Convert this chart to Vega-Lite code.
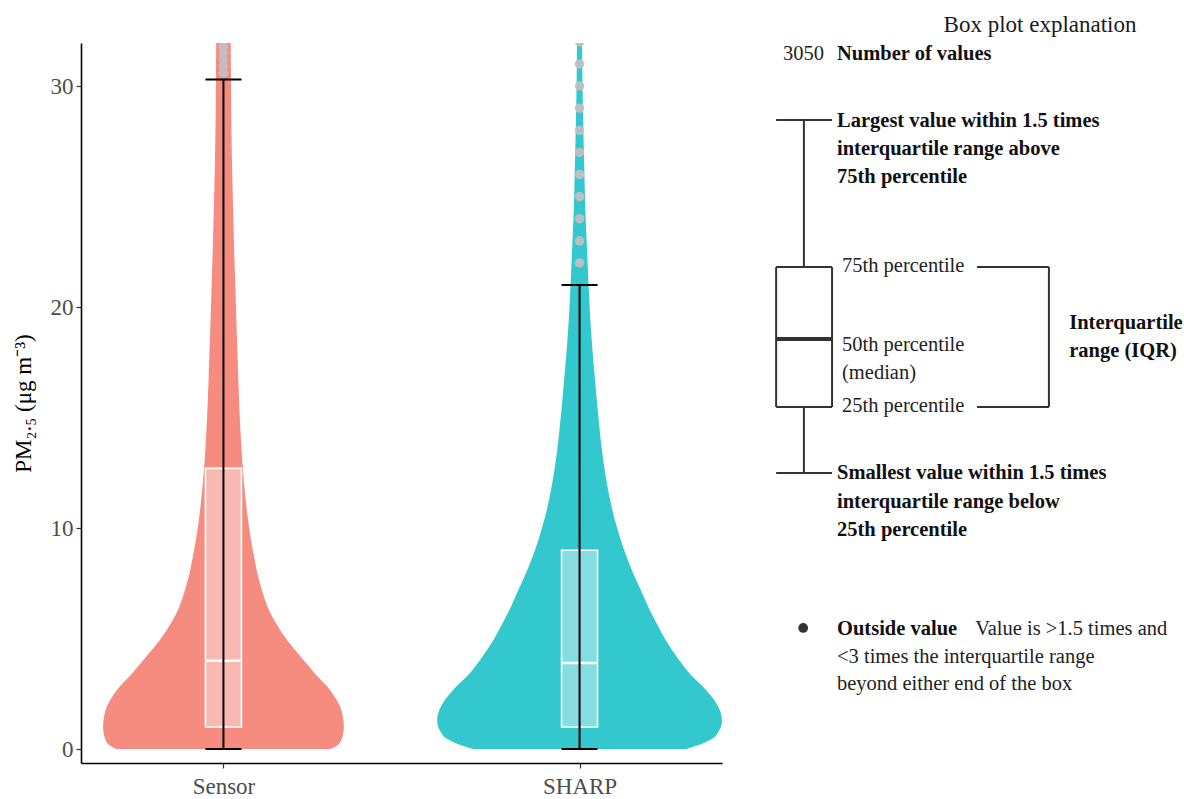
{
  "$schema": "https://vega.github.io/schema/vega-lite/v6.json",
  "width": 641,
  "height": 720,
  "autosize": {"type": "none"},
  "padding": {"left": 81, "top": 43, "right": 462, "bottom": 36},
  "background": "white",
  "config": {
    "view": {"stroke": null},
    "font": "Liberation Serif",
    "axis": {"grid": false, "domainColor": "#000000", "domainWidth": 1.6, "tickColor": "#333333", "tickSize": 5, "tickWidth": 1.2, "labelFont": "Liberation Serif", "labelFontSize": 23, "labelColor": "#4d4d4d", "titleFont": "Liberation Serif"}
  },
  "datasets": {
    "violin": [
      {"group": "Sensor", "pm": 0, "density": 0.300},
      {"group": "Sensor", "pm": 0.2, "density": 0.322},
      {"group": "Sensor", "pm": 0.5, "density": 0.333},
      {"group": "Sensor", "pm": 1.0, "density": 0.338},
      {"group": "Sensor", "pm": 1.5, "density": 0.335},
      {"group": "Sensor", "pm": 1.9, "density": 0.328},
      {"group": "Sensor", "pm": 2.3, "density": 0.315},
      {"group": "Sensor", "pm": 2.7, "density": 0.298},
      {"group": "Sensor", "pm": 3.4, "density": 0.258},
      {"group": "Sensor", "pm": 4.2, "density": 0.216},
      {"group": "Sensor", "pm": 4.9, "density": 0.180},
      {"group": "Sensor", "pm": 5.7, "density": 0.147},
      {"group": "Sensor", "pm": 6.4, "density": 0.125},
      {"group": "Sensor", "pm": 7.2, "density": 0.108},
      {"group": "Sensor", "pm": 7.9, "density": 0.096},
      {"group": "Sensor", "pm": 8.7, "density": 0.086},
      {"group": "Sensor", "pm": 9.5, "density": 0.077},
      {"group": "Sensor", "pm": 10.5, "density": 0.068},
      {"group": "Sensor", "pm": 12.0, "density": 0.058},
      {"group": "Sensor", "pm": 13.5, "density": 0.051},
      {"group": "Sensor", "pm": 15.0, "density": 0.046},
      {"group": "Sensor", "pm": 16.6, "density": 0.042},
      {"group": "Sensor", "pm": 18.1, "density": 0.039},
      {"group": "Sensor", "pm": 19.5, "density": 0.036},
      {"group": "Sensor", "pm": 21.1, "density": 0.033},
      {"group": "Sensor", "pm": 22.6, "density": 0.030},
      {"group": "Sensor", "pm": 24.5, "density": 0.027},
      {"group": "Sensor", "pm": 26.5, "density": 0.024},
      {"group": "Sensor", "pm": 28.5, "density": 0.022},
      {"group": "Sensor", "pm": 30.5, "density": 0.021},
      {"group": "Sensor", "pm": 32.5, "density": 0.020},
      {"group": "SHARP", "pm": 0, "density": 0.299},
      {"group": "SHARP", "pm": 0.3, "density": 0.352},
      {"group": "SHARP", "pm": 0.6, "density": 0.383},
      {"group": "SHARP", "pm": 1.3, "density": 0.400},
      {"group": "SHARP", "pm": 1.9, "density": 0.390},
      {"group": "SHARP", "pm": 2.7, "density": 0.354},
      {"group": "SHARP", "pm": 3.4, "density": 0.310},
      {"group": "SHARP", "pm": 4.2, "density": 0.272},
      {"group": "SHARP", "pm": 4.9, "density": 0.243},
      {"group": "SHARP", "pm": 5.7, "density": 0.216},
      {"group": "SHARP", "pm": 6.4, "density": 0.194},
      {"group": "SHARP", "pm": 7.2, "density": 0.172},
      {"group": "SHARP", "pm": 7.9, "density": 0.152},
      {"group": "SHARP", "pm": 8.7, "density": 0.132},
      {"group": "SHARP", "pm": 9.5, "density": 0.115},
      {"group": "SHARP", "pm": 10.5, "density": 0.097},
      {"group": "SHARP", "pm": 12.0, "density": 0.077},
      {"group": "SHARP", "pm": 13.5, "density": 0.063},
      {"group": "SHARP", "pm": 15.0, "density": 0.053},
      {"group": "SHARP", "pm": 16.6, "density": 0.044},
      {"group": "SHARP", "pm": 18.1, "density": 0.036},
      {"group": "SHARP", "pm": 19.5, "density": 0.030},
      {"group": "SHARP", "pm": 21.1, "density": 0.025},
      {"group": "SHARP", "pm": 22.6, "density": 0.021},
      {"group": "SHARP", "pm": 24.5, "density": 0.016},
      {"group": "SHARP", "pm": 26.5, "density": 0.013},
      {"group": "SHARP", "pm": 28.5, "density": 0.010},
      {"group": "SHARP", "pm": 30.5, "density": 0.008},
      {"group": "SHARP", "pm": 32.5, "density": 0.007}
    ],
    "boxes": [
      {"group": "Sensor", "lower": 0, "q1": 1.0, "median": 4.0, "q3": 12.7, "upper": 30.3},
      {"group": "SHARP", "lower": 0, "q1": 1.0, "median": 3.9, "q3": 9.0, "upper": 21.0}
    ],
    "outliers": [
      {"group": "Sensor", "pm": 30.6}, {"group": "Sensor", "pm": 30.9}, {"group": "Sensor", "pm": 31.2},
      {"group": "Sensor", "pm": 31.5}, {"group": "Sensor", "pm": 31.8}, {"group": "Sensor", "pm": 32.1},
      {"group": "SHARP", "pm": 22}, {"group": "SHARP", "pm": 23}, {"group": "SHARP", "pm": 24},
      {"group": "SHARP", "pm": 25}, {"group": "SHARP", "pm": 26}, {"group": "SHARP", "pm": 27},
      {"group": "SHARP", "pm": 28}, {"group": "SHARP", "pm": 29}, {"group": "SHARP", "pm": 30},
      {"group": "SHARP", "pm": 31}, {"group": "SHARP", "pm": 32}
    ],
    "keyLines": [
      {"x": 2.552, "x2": 2.709, "y": 28.47, "y2": 28.47},
      {"x": 2.630, "x2": 2.630, "y": 28.47, "y2": 21.81},
      {"x": 2.552, "x2": 2.709, "y": 21.81, "y2": 21.81},
      {"x": 2.552, "x2": 2.709, "y": 15.48, "y2": 15.48},
      {"x": 2.552, "x2": 2.552, "y": 15.48, "y2": 21.81},
      {"x": 2.709, "x2": 2.709, "y": 15.48, "y2": 21.81},
      {"x": 2.630, "x2": 2.630, "y": 15.48, "y2": 12.49},
      {"x": 2.552, "x2": 2.709, "y": 12.49, "y2": 12.49},
      {"x": 3.116, "x2": 3.318, "y": 21.81, "y2": 21.81},
      {"x": 3.318, "x2": 3.318, "y": 15.48, "y2": 21.81},
      {"x": 3.116, "x2": 3.318, "y": 15.48, "y2": 15.48}
    ],
    "keyMedian": [
      {"x": 2.552, "x2": 2.709, "y": 18.56}
    ],
    "keyTitle": [
      {"text": "Box plot explanation", "x": 3.293, "y": 32.45}
    ],
    "keyPlain": [
      {"text": "3050", "x": 2.571, "y": 31.18},
      {"text": "75th percentile", "x": 2.737, "y": 21.59},
      {"text": "50th percentile", "x": 2.737, "y": 18.01},
      {"text": "(median)", "x": 2.737, "y": 16.75},
      {"text": "25th percentile", "x": 2.737, "y": 15.25},
      {"text": "Value is >1.5 times and", "x": 3.111, "y": 5.16},
      {"text": "<3 times the interquartile range", "x": 2.723, "y": 3.90},
      {"text": "beyond either end of the box", "x": 2.723, "y": 2.67}
    ],
    "keyBold": [
      {"text": "Number of values", "x": 2.723, "y": 31.18},
      {"text": "Largest value within 1.5 times", "x": 2.723, "y": 28.15},
      {"text": "interquartile range above", "x": 2.723, "y": 26.88},
      {"text": "75th percentile", "x": 2.723, "y": 25.62},
      {"text": "Interquartile", "x": 3.375, "y": 19.01},
      {"text": "range (IQR)", "x": 3.375, "y": 17.74},
      {"text": "Smallest value within 1.5 times", "x": 2.723, "y": 12.22},
      {"text": "interquartile range below", "x": 2.723, "y": 10.91},
      {"text": "25th percentile", "x": 2.723, "y": 9.64},
      {"text": "Outside value", "x": 2.723, "y": 5.16}
    ],
    "keyDot": [
      {"x": 2.628, "y": 5.48}
    ]
  },
  "encoding": {
    "x": {"type": "quantitative", "scale": {"domain": [0.6, 2.4], "nice": false, "zero": false, "padding": 0},
          "axis": {"values": [1, 2], "labelExpr": "datum.value == 1 ? 'Sensor' : 'SHARP'", "title": null, "labelPadding": 7}},
    "y": {"type": "quantitative", "scale": {"domain": [-0.63, 31.95], "nice": false, "zero": false, "padding": 0},
          "axis": {"values": [0, 10, 20, 30], "title": "PM₂.₅ (μg m⁻³)", "titleFontSize": 23, "titleFontWeight": "normal", "titleColor": "#000000", "titlePadding": 15, "labelPadding": 3}}
  },
  "layer": [
    {
      "data": {"name": "violin"},
      "transform": [
        {"calculate": "datum.group === 'Sensor' ? 1 : 2", "as": "pos"},
        {"calculate": "datum.pos - datum.density", "as": "lo"},
        {"calculate": "datum.pos + datum.density", "as": "hi"}
      ],
      "mark": {"type": "area", "orient": "horizontal", "interpolate": "monotone", "clip": true, "opacity": 1},
      "encoding": {
        "y": {"field": "pm"},
        "x": {"field": "lo"},
        "x2": {"field": "hi"},
        "color": {"field": "group", "type": "nominal", "scale": {"domain": ["Sensor", "SHARP"], "range": ["#f68b80", "#33c8cd"]}, "legend": null}
      }
    },
    {
      "data": {"name": "boxes"},
      "transform": [{"calculate": "datum.group === 'Sensor' ? 1 : 2", "as": "pos"}],
      "mark": {"type": "bar", "orient": "vertical", "width": 36, "fill": "#ffffff", "fillOpacity": 0.4, "stroke": "#ffffff", "strokeWidth": 1.6},
      "encoding": {
        "x": {"field": "pos"},
        "y": {"field": "q1"},
        "y2": {"field": "q3"}
      }
    },
    {
      "data": {"name": "boxes"},
      "transform": [{"calculate": "datum.group === 'Sensor' ? 1 : 2", "as": "pos"}],
      "mark": {"type": "tick", "orient": "horizontal", "size": 36, "thickness": 2.5, "color": "#ffffff", "opacity": 1},
      "encoding": {
        "x": {"field": "pos"},
        "y": {"field": "median"}
      }
    },
    {
      "data": {"name": "boxes"},
      "transform": [{"calculate": "datum.group === 'Sensor' ? 1 : 2", "as": "pos"}],
      "mark": {"type": "rule", "color": "#000000", "strokeWidth": 2},
      "encoding": {
        "x": {"field": "pos"},
        "y": {"field": "lower"},
        "y2": {"field": "upper"}
      }
    },
    {
      "data": {"name": "boxes"},
      "transform": [{"calculate": "datum.group === 'Sensor' ? 1 : 2", "as": "pos"}],
      "mark": {"type": "tick", "orient": "horizontal", "size": 36, "thickness": 2, "color": "#000000", "opacity": 1},
      "encoding": {
        "x": {"field": "pos"},
        "y": {"field": "upper"}
      }
    },
    {
      "data": {"name": "boxes"},
      "transform": [{"calculate": "datum.group === 'Sensor' ? 1 : 2", "as": "pos"}],
      "mark": {"type": "tick", "orient": "horizontal", "size": 36, "thickness": 2, "color": "#000000", "opacity": 1},
      "encoding": {
        "x": {"field": "pos"},
        "y": {"field": "lower"}
      }
    },
    {
      "data": {"name": "outliers"},
      "transform": [{"calculate": "datum.group === 'Sensor' ? 1 : 2", "as": "pos"}],
      "mark": {"type": "circle", "size": 90, "color": "#c2bfc2", "opacity": 0.95, "clip": true},
      "encoding": {
        "x": {"field": "pos"},
        "y": {"field": "pm"}
      }
    },
    {
      "data": {"name": "keyLines"},
      "mark": {"type": "rule", "color": "#333333", "strokeWidth": 2},
      "encoding": {
        "x": {"field": "x"},
        "x2": {"field": "x2"},
        "y": {"field": "y"},
        "y2": {"field": "y2"}
      }
    },
    {
      "data": {"name": "keyMedian"},
      "mark": {"type": "rule", "color": "#333333", "strokeWidth": 4},
      "encoding": {
        "x": {"field": "x"},
        "x2": {"field": "x2"},
        "y": {"field": "y"}
      }
    },
    {
      "data": {"name": "keyDot"},
      "mark": {"type": "circle", "size": 95, "color": "#333333", "opacity": 1},
      "encoding": {
        "x": {"field": "x"},
        "y": {"field": "y"}
      }
    },
    {
      "data": {"name": "keyTitle"},
      "mark": {"type": "text", "font": "Liberation Serif", "fontSize": 23, "align": "center", "baseline": "alphabetic", "color": "#1a1a1a"},
      "encoding": {
        "x": {"field": "x"},
        "y": {"field": "y"},
        "text": {"field": "text", "type": "nominal"}
      }
    },
    {
      "data": {"name": "keyPlain"},
      "mark": {"type": "text", "font": "Liberation Serif", "fontSize": 20.5, "align": "left", "baseline": "alphabetic", "color": "#222222"},
      "encoding": {
        "x": {"field": "x"},
        "y": {"field": "y"},
        "text": {"field": "text", "type": "nominal"}
      }
    },
    {
      "data": {"name": "keyBold"},
      "mark": {"type": "text", "font": "Liberation Serif", "fontSize": 20.5, "fontWeight": "bold", "align": "left", "baseline": "alphabetic", "color": "#111111"},
      "encoding": {
        "x": {"field": "x"},
        "y": {"field": "y"},
        "text": {"field": "text", "type": "nominal"}
      }
    }
  ]
}
